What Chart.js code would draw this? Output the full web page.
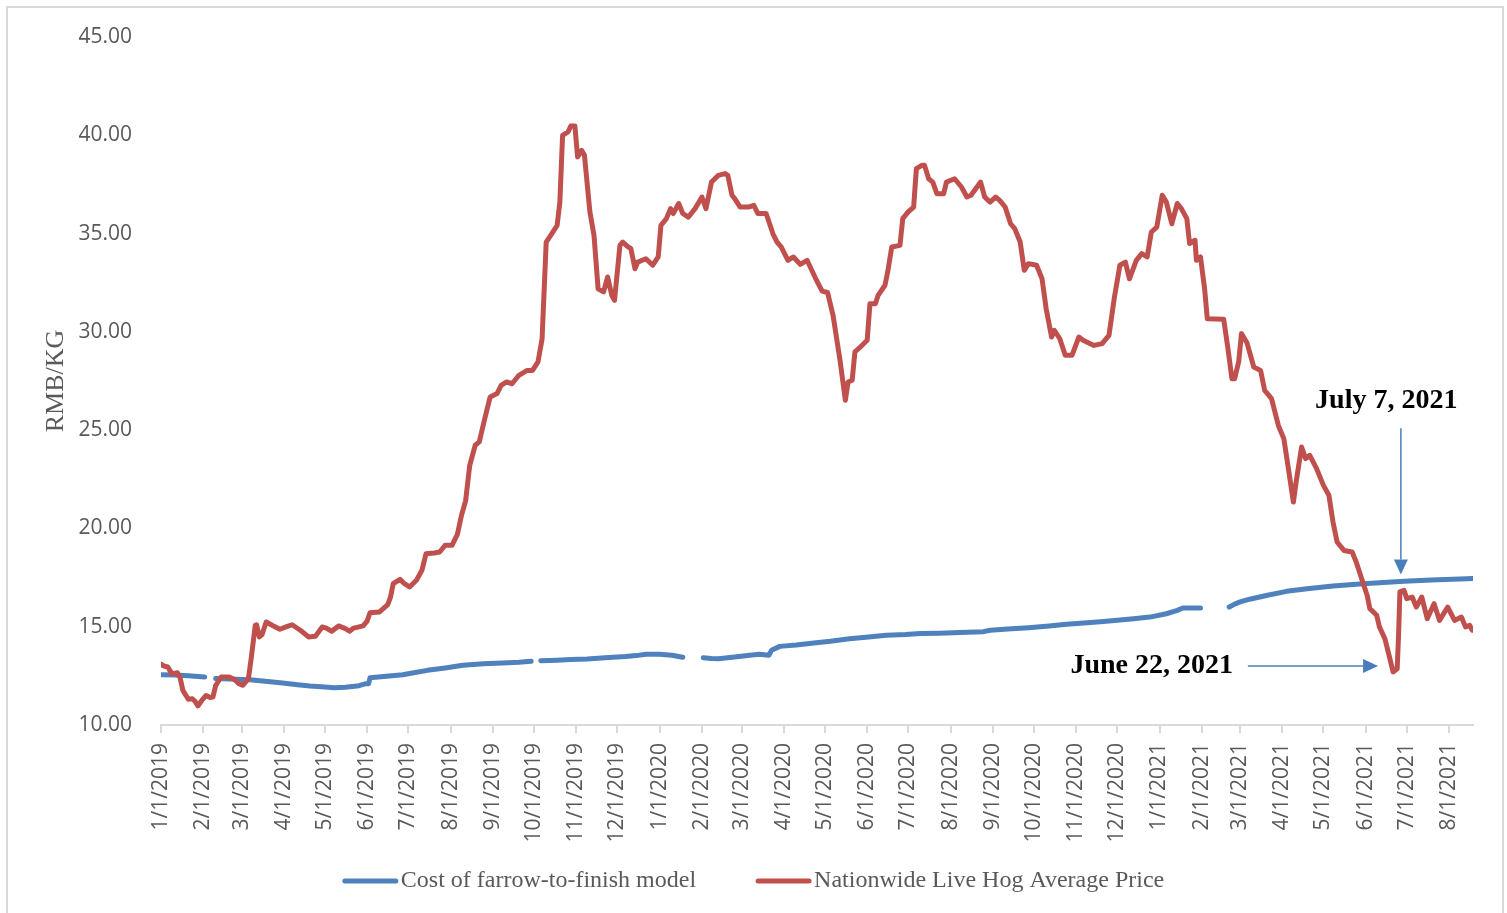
<!DOCTYPE html>
<html>
<head>
<meta charset="utf-8">
<title>Live hog price vs farrow-to-finish cost</title>
<script src="https://cdn.jsdelivr.net/npm/chart.js@4.4.1/dist/chart.umd.min.js"></script>
<style>
  html, body { margin: 0; padding: 0; background: #fff; overflow: hidden; }
  #frame { position: absolute; left: 6px; top: 6px; width: 1498px; height: 1000px; border: 2px solid #d9d9d9; box-sizing: border-box; }
  #chart { position: absolute; left: 0; top: 0; }
</style>
</head>
<body>
<div id="frame"></div>
<canvas id="chart" width="1507" height="913"></canvas>
<script>
// x values are days counted from 1/1/2019
const costDays = [
    0, 10, 20, 32, 36, 40, 50, 65, 80, 89,
    100, 109, 120, 127, 135, 145, 150, 152, 153, 165,
    177, 185, 195, 208, 221, 236, 250, 262, 271, 274,
    278, 290, 300, 312, 325, 340, 348, 355, 365, 374,
    382, 389, 397, 403, 408, 420, 431, 438, 445, 447,
    453, 465, 478, 490, 504, 518, 531, 545, 556, 570,
    585, 602, 607, 620, 635, 650, 663, 678, 690, 700,
    712, 724, 736, 744, 748, 761, 771, 782, 786, 790,
    797, 810, 824, 839, 858, 880, 895, 910, 930, 956,
    960
];
// null = no data (holiday breaks)
const costValues = [
    12.56, 12.54, 12.5, 12.44, null, 12.36, 12.34, 12.3, 12.2, 12.14,
    12.05, 11.98, 11.93, 11.9, 11.92, 12.0, 12.1, 12.1, 12.4, 12.48,
    12.56, 12.66, 12.78, 12.9, 13.04, 13.12, 13.15, 13.19, 13.24, null,
    13.27, 13.3, 13.33, 13.36, 13.42, 13.48, 13.53, 13.6, 13.6, 13.55,
    13.45, null, 13.42, 13.38, 13.37, 13.46, 13.55, 13.6, 13.55, 13.8,
    14.0, 14.07, 14.17, 14.26, 14.39, 14.48, 14.56, 14.6, 14.65, 14.67,
    14.7, 14.75, 14.82, 14.88, 14.95, 15.04, 15.12, 15.2, 15.27, 15.33,
    15.41, 15.49, 15.66, 15.83, 15.95, 15.95, null, 16.0, 16.15, 16.26,
    16.4, 16.6, 16.8, 16.93, 17.07, 17.19, 17.25, 17.31, 17.38, 17.44,
    17.45
];

const priceDays = [
    0, 2, 5, 8, 12, 14, 16, 20, 23, 25,
    27, 30, 33, 36, 38, 40, 44, 50, 54, 57,
    60, 64, 66, 69, 70, 72, 74, 77, 82, 87,
    92, 96, 102, 108, 113, 118, 121, 125, 130, 135,
    138, 141, 148, 151, 153, 160, 166, 168, 170, 175,
    178, 182, 187, 191, 194, 200, 204, 208, 213, 217,
    220, 223, 226, 230, 233, 237, 241, 246, 249, 253,
    257, 262, 268, 272, 276, 279, 282, 286, 290, 292,
    294, 298, 300, 303, 305, 308, 310, 314, 317, 320,
    324, 327, 330, 332, 336, 338, 342, 344, 347, 349,
    355, 360, 364, 366, 370, 373, 375, 379, 382, 386,
    391, 396, 399, 403, 408, 413, 415, 418, 420, 424,
    430, 434, 437, 443, 448, 451, 454, 459, 463, 468,
    473, 479, 484, 488, 492, 497, 501, 503, 506, 508,
    512, 517, 519, 523, 525, 530, 532, 535, 541, 543,
    547, 551, 553, 557, 559, 562, 565, 568, 573, 575,
    581, 586, 590, 593, 600, 603, 607, 611, 614, 618,
    622, 625, 629, 632, 635, 641, 645, 648, 652, 654,
    658, 662, 667, 672, 675, 683, 689, 694, 698, 702,
    706, 709, 714, 718, 722, 725, 729, 733, 736, 740,
    744, 747, 751, 753, 757, 758, 761, 764, 766, 778,
    781, 784, 786, 789, 791, 795, 800, 805, 808, 813,
    818, 822, 825, 829, 831, 835, 838, 841, 846, 851,
    855, 858, 861, 866, 872, 875, 879, 883, 885, 890,
    892, 896, 899, 902, 905, 906, 907, 910, 912, 916,
    919, 923, 927, 932, 936, 942, 947, 952, 955, 958,
    960
];
const priceValues = [
    13.1, 13.0, 12.95, 12.6, 12.66, 12.4, 11.76, 11.31, 11.34, 11.2,
    10.97, 11.26, 11.5, 11.4, 11.42, 12.0, 12.44, 12.44, 12.3, 12.1,
    12.02, 12.36, 13.37, 15.07, 15.1, 14.48, 14.6, 15.24, 15.05, 14.87,
    15.0, 15.1, 14.82, 14.48, 14.51, 14.99, 14.93, 14.77, 15.04, 14.9,
    14.77, 14.93, 15.04, 15.3, 15.71, 15.75, 16.12, 16.5, 17.19, 17.41,
    17.2, 17.02, 17.36, 17.87, 18.71, 18.75, 18.8, 19.14, 19.14, 19.7,
    20.67, 21.4, 23.2, 24.23, 24.4, 25.58, 26.69, 26.86, 27.28, 27.45,
    27.36, 27.79, 28.04, 28.04, 28.47, 29.65, 34.57, 34.99, 35.42, 36.6,
    40.0, 40.17, 40.47, 40.47, 38.9, 39.23, 38.98, 36.1, 34.91, 32.19,
    32.03, 32.79, 31.86, 31.6, 34.4, 34.57, 34.32, 34.23, 33.21, 33.55,
    33.72, 33.39, 33.81, 35.42, 35.76, 36.27, 36.02, 36.53, 36.02, 35.84,
    36.27, 36.86, 36.27, 37.62, 37.96, 38.05, 37.96, 36.95, 36.78, 36.35,
    36.35, 36.44, 36.02, 36.02, 34.99, 34.57, 34.32, 33.64, 33.81, 33.43,
    33.64, 32.75, 32.07, 32.0, 30.84, 28.6, 26.52, 27.45, 27.54, 28.98,
    29.23, 29.57, 31.43, 31.43, 31.86, 32.37, 33.04, 34.32, 34.4, 35.76,
    36.1, 36.35, 38.3, 38.47, 38.47, 37.79, 37.62, 37.03, 37.03, 37.62,
    37.79, 37.37, 36.86, 36.95, 37.62, 36.86, 36.6, 36.86, 36.69, 36.35,
    35.5, 35.25, 34.57, 33.13, 33.47, 33.39, 32.7, 31.18, 29.74, 30.08,
    29.65, 28.81, 28.81, 29.74, 29.57, 29.31, 29.4, 29.82, 31.77, 33.39,
    33.55, 32.7, 33.64, 33.98, 33.81, 35.08, 35.33, 36.95, 36.6, 35.5,
    36.53, 36.27, 35.76, 34.49, 34.66, 33.64, 33.81, 32.2, 30.67, 30.64,
    29.2, 27.62, 27.62, 28.5, 29.91, 29.45, 28.21, 28.04, 27.02, 26.6,
    25.24, 24.57, 23.21, 21.34, 22.36, 24.14, 23.55, 23.72, 23.04, 22.19,
    21.69, 20.33, 19.31, 18.88, 18.8, 18.29, 17.44, 16.6, 15.92, 15.58,
    14.99, 14.39, 13.55, 12.7, 12.86, 14.56, 16.77, 16.85, 16.43, 16.51,
    16.0, 16.51, 15.41, 16.17, 15.32, 16.0, 15.32, 15.49, 14.99, 15.07,
    14.82
];

const tickLabels = [
    '1/1/2019', '2/1/2019', '3/1/2019', '4/1/2019', '5/1/2019', '6/1/2019',
    '7/1/2019', '8/1/2019', '9/1/2019', '10/1/2019', '11/1/2019', '12/1/2019',
    '1/1/2020', '2/1/2020', '3/1/2020', '4/1/2020', '5/1/2020', '6/1/2020',
    '7/1/2020', '8/1/2020', '9/1/2020', '10/1/2020', '11/1/2020', '12/1/2020',
    '1/1/2021', '2/1/2021', '3/1/2021', '4/1/2021', '5/1/2021', '6/1/2021',
    '7/1/2021', '8/1/2021'
];
const seriesNames = ['Cost of farrow-to-finish model', 'Nationwide Live Hog Average Price'];

// callouts: label anchor and arrow, in [day, RMB/KG]
const notes = [
    { text: 'July 7, 2021', align: 'center', at: [897, 26.5], arrow: [[907.7, 25.1], [907.7, 17.65]] },
    { text: 'June 22, 2021', align: 'right', at: [784.8, 13.0], arrow: [[795.7, 13.0], [891, 13.0]] }
];

function dayOf(label) {
    const [m, d, y] = label.split('/').map(Number);
    return (Date.UTC(y, m - 1, d) - Date.UTC(2019, 0, 1)) / 864e5;
}
const tickDays = tickLabels.map(dayOf);

function drawArrow(ctx, x1, y1, x2, y2) {
    const a = Math.atan2(y2 - y1, x2 - x1);
    const head = 15, half = 7;
    const bx = x2 - head * Math.cos(a), by = y2 - head * Math.sin(a);
    ctx.beginPath();
    ctx.moveTo(x1, y1);
    ctx.lineTo(bx, by);
    ctx.stroke();
    ctx.beginPath();
    ctx.moveTo(x2, y2);
    ctx.lineTo(bx + half * Math.sin(a), by - half * Math.cos(a));
    ctx.lineTo(bx - half * Math.sin(a), by + half * Math.cos(a));
    ctx.closePath();
    ctx.fill();
}

const notesPlugin = {
    id: 'notes',
    afterDatasetsDraw(chart) {
        const { ctx, scales: { x, y } } = chart;
        ctx.save();
        ctx.strokeStyle = '#4a7ebb';
        ctx.fillStyle = '#4a7ebb';
        ctx.lineWidth = 1.5;
        notes.forEach(n => {
            const [p, q] = n.arrow;
            drawArrow(ctx, x.getPixelForValue(p[0]), y.getPixelForValue(p[1]),
                x.getPixelForValue(q[0]), y.getPixelForValue(q[1]));
        });
        ctx.fillStyle = '#000';
        ctx.font = 'bold 28px "Liberation Serif", "Times New Roman", serif';
        ctx.textBaseline = 'middle';
        notes.forEach(n => {
            ctx.textAlign = n.align;
            ctx.fillText(n.text, x.getPixelForValue(n.at[0]), y.getPixelForValue(n.at[1]));
        });
        ctx.restore();
    }
};

const legendPlugin = {
    id: 'bottomLegend',
    afterDraw(chart) {
        const ctx = chart.ctx;
        const cy = chart.height - 32;
        const lineLen = 55, gap = 3, spacing = 60;
        ctx.save();
        ctx.font = '24px "Liberation Serif", "Times New Roman", serif';
        const items = chart.data.datasets.map(ds => ({
            label: ds.label,
            color: ds.borderColor,
            w: lineLen + gap + ctx.measureText(ds.label).width
        }));
        const total = items.reduce((s, it) => s + it.w, 0) + spacing * (items.length - 1);
        let x = chart.width / 2 - total / 2;
        items.forEach(it => {
            ctx.strokeStyle = it.color;
            ctx.lineWidth = 5;
            ctx.lineCap = 'round';
            ctx.beginPath();
            ctx.moveTo(x + 2, cy);
            ctx.lineTo(x + lineLen - 2, cy);
            ctx.stroke();
            ctx.fillStyle = '#595959';
            ctx.textAlign = 'left';
            ctx.textBaseline = 'middle';
            ctx.fillText(it.label, x + lineLen + gap, cy);
            x += it.w + spacing;
        });
        ctx.restore();
    }
};

new Chart(document.getElementById('chart'), {
    type: 'line',
    data: {
        datasets: [
            {
                label: seriesNames[0],
                data: costDays.map((d, i) => ({ x: d, y: costValues[i] })),
                borderColor: '#4F81BD',
                order: 1
            },
            {
                label: seriesNames[1],
                data: priceDays.map((d, i) => ({ x: d, y: priceValues[i] })),
                borderColor: '#C0504D',
                order: 0
            }
        ]
    },
    options: {
        responsive: false,
        animation: false,
        devicePixelRatio: 1,
        spanGaps: false,
        layout: { padding: { left: 0, top: 37, right: 34, bottom: 63 } },
        elements: {
            point: { radius: 0 },
            line: { borderWidth: 5, tension: 0, borderCapStyle: 'round', borderJoinStyle: 'round', fill: false }
        },
        plugins: { legend: { display: false }, tooltip: { enabled: false } },
        scales: {
            x: {
                type: 'linear',
                min: 0,
                max: 960.5,
                afterFit: s => { s.height = 125; },
                afterBuildTicks: s => { s.ticks = tickDays.map(v => ({ value: v })); },
                grid: { display: true, drawOnChartArea: false, drawTicks: true, tickLength: 8, color: '#d9d9d9', lineWidth: 2 },
                border: { display: true, color: '#d9d9d9', width: 2 },
                ticks: {
                    autoSkip: false,
                    minRotation: 90,
                    maxRotation: 90,
                    padding: 10,
                    color: '#595959',
                    font: { family: '"Open Sans", "DejaVu Sans", sans-serif', size: 21 },
                    callback: (v, i) => tickLabels[i]
                }
            },
            y: {
                min: 10,
                max: 45,
                afterFit: s => { s.width = 161; },
                // hidden tick marks keep the labels clear of the plot
                grid: { display: false, drawTicks: true, tickLength: 29 },
                border: { display: false },
                ticks: {
                    stepSize: 5,
                    padding: 0,
                    color: '#595959',
                    font: { family: '"Open Sans", "DejaVu Sans", sans-serif', size: 21 },
                    callback: v => v.toFixed(2)
                },
                title: {
                    display: true,
                    text: 'RMB/KG',
                    color: '#595959',
                    font: { family: '"Liberation Serif", "Times New Roman", serif', size: 26, weight: 'normal' },
                    padding: { top: 41, bottom: 0 }
                }
            }
        }
    },
    plugins: [notesPlugin, legendPlugin]
});
</script>
</body>
</html>
